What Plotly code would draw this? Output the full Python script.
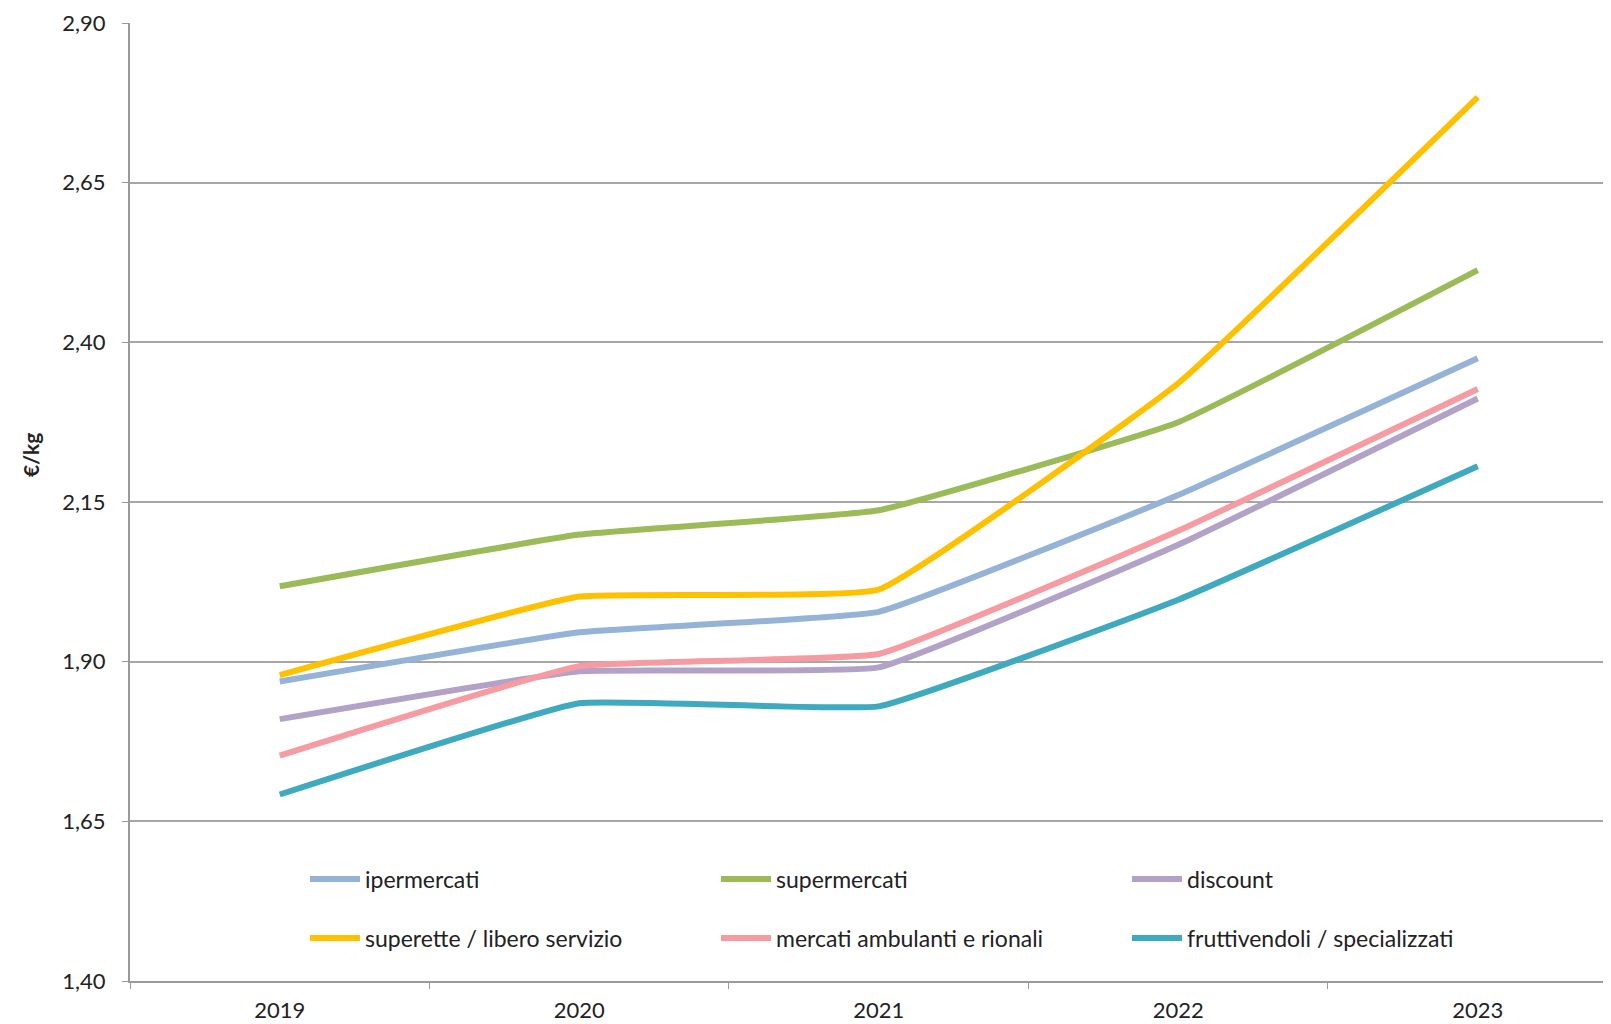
import plotly.graph_objects as go

years = ["2019", "2020", "2021", "2022", "2023"]
ipermercati = [1.869, 1.946, 1.978, 2.161, 2.375]
supermercati = [2.018, 2.099, 2.137, 2.275, 2.513]
discount = [1.810, 1.885, 1.891, 2.083, 2.312]
superette = [1.879, 2.002, 2.013, 2.336, 2.784]
mercati = [1.753, 1.893, 1.912, 2.105, 2.327]
fruttivendoli = [1.692, 1.835, 1.830, 1.997, 2.206]
y_ticks = [1.40, 1.65, 1.90, 2.15, 2.40, 2.65, 2.90]
y_ticktext = ["1,40", "1,65", "1,90", "2,15", "2,40", "2,65", "2,90"]

series = [
    ("ipermercati", ipermercati, "#95B3D7", "legend"),
    ("supermercati", supermercati, "#9BBB59", "legend"),
    ("discount", discount, "#B3A2C7", "legend"),
    ("superette / libero servizio", superette, "#FFC000", "legend2"),
    ("mercati ambulanti e rionali", mercati, "#F79BA2", "legend2"),
    ("fruttivendoli / specializzati", fruttivendoli, "#3FA9C0", "legend2"),
]

FONT = "Lato, 'Open Sans', sans-serif"

fig = go.Figure()
for name, vals, col, lg in series:
    fig.add_trace(go.Scatter(
        x=years, y=vals, name=name, mode="lines",
        line=dict(color=col, width=6, shape="spline", smoothing=0.3),
        legend=lg,
    ))

# page body has an 8px offset; figure is sized to end at the window edge
OFF = 8
W, H = 1611 - OFF, 1024 - OFF
PL, PT, PB = 130, 23, 981  # plot area in page pixels
L, T = PL - OFF, PT - OFF
B = H - (PB - OFF)
plot_w = W - L
plot_h = PB - PT

legend_common = dict(
    orientation="h", xanchor="left", yanchor="middle",
    entrywidth=346, entrywidthmode="pixels",
    font=dict(family=FONT, size=23, color="#222222"),
    bgcolor="rgba(0,0,0,0)", traceorder="normal",
    itemwidth=50,
)

fig.update_layout(
    width=W, height=H,
    margin=dict(l=L, r=0, t=T, b=B, autoexpand=False),
    plot_bgcolor="white", paper_bgcolor="white",
    font=dict(family=FONT, size=22, color="#222222"),
    legend=dict(x=(305 - PL) / plot_w, y=(PB - 879) / plot_h, **legend_common),
    legend2=dict(x=(305 - PL) / plot_w, y=(PB - 938) / plot_h, **legend_common),
    xaxis=dict(
        type="category", range=[-0.5, 4.445],
        tickson="boundaries", ticks="outside", ticklen=6, tickcolor="#9a9a9a",
        showgrid=False, showline=True, linecolor="#9a9a9a", linewidth=2,
        tickfont=dict(family=FONT, size=22, color="#222222"),
        ticklabelstandoff=9, automargin=False,
    ),
    yaxis=dict(
        range=[1.40, 2.90], tickvals=y_ticks, ticktext=y_ticktext,
        ticks="outside", ticklen=6, tickcolor="#9a9a9a",
        showgrid=True, gridcolor="#a6a6a6", gridwidth=1.5,
        showline=True, linecolor="#9a9a9a", linewidth=2,
        zeroline=False,
        tickfont=dict(family=FONT, size=22, color="#222222"),
        ticklabelstandoff=12, automargin=False,
    ),
    annotations=[dict(
        text="<b>€/kg</b>", x=(31 - PL) / plot_w, y=(PB - 455) / plot_h,
        xref="paper", yref="paper", showarrow=False, textangle=-90,
        font=dict(family=FONT, size=21, color="#222222"),
        xanchor="center", yanchor="middle",
    )],
)

fig.write_html("out.html")
